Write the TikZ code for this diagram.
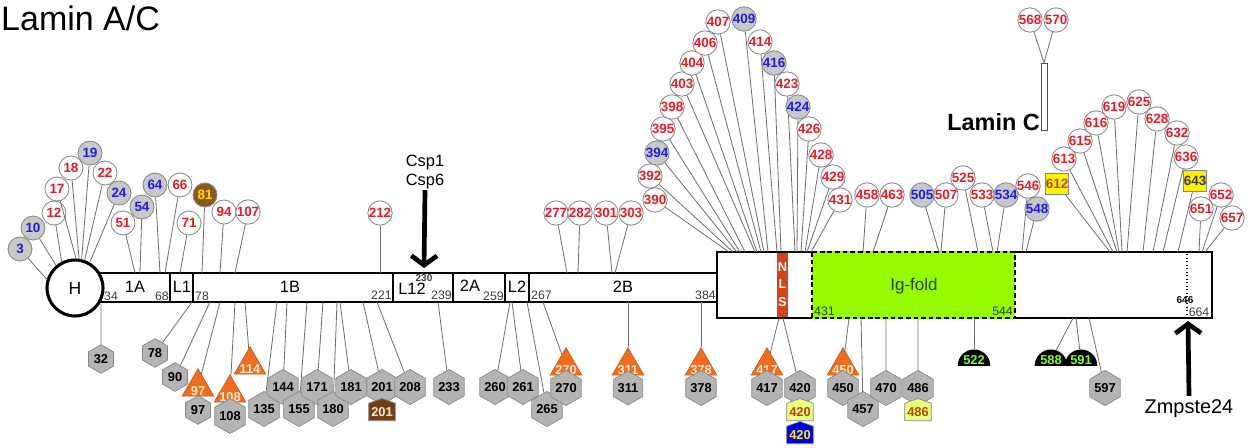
\documentclass[tikz,border=0pt]{standalone}
\usepackage{fontspec}
\setmainfont{Liberation Sans}
\usetikzlibrary{shapes.geometric,shapes.symbols,arrows.meta}

\definecolor{redtxt}{RGB}{228,30,40}
\definecolor{bluetxt}{RGB}{30,30,215}
\definecolor{sitegray}{RGB}{200,200,200}
\definecolor{hexgray}{RGB}{180,180,180}
\definecolor{hexline}{RGB}{135,135,135}
\definecolor{stemgray}{RGB}{110,110,110}
\definecolor{triorange}{RGB}{240,108,30}
\definecolor{tritext}{RGB}{255,232,205}
\definecolor{brownA}{RGB}{140,88,28}
\definecolor{brownB}{RGB}{115,65,20}
\definecolor{goldtxt}{RGB}{255,222,0}
\definecolor{igfold}{RGB}{150,250,0}
\definecolor{igtxt}{RGB}{40,70,30}
\definecolor{nlsred}{RGB}{212,68,22}
\definecolor{paleyellow}{RGB}{232,255,125}
\definecolor{darkorange}{RGB}{185,70,0}
\definecolor{domegreen}{RGB}{135,255,20}
\definecolor{numgray}{RGB}{60,60,60}

% site on a stem: name, style, text, position, stem foot
\newcommand{\mutsite}[5]{%
	\node[#2] (#1) at (#4) {#3};
	\coordinate (#1b) at #5;
	\draw[stem] (#1b) -- (#1);
}

\begin{document}
\begin{tikzpicture}[x=0.03cm, y=-0.03cm,
	stem/.style={draw=stemgray, line width=0.7pt},
	bar/.style={draw=black, fill=white, line width=2.2pt},
	divider/.style={draw=black, line width=1pt},
	segtxt/.style={font=\fontsize{14}{14}\selectfont},
	postxt/.style={font=\fontsize{10.5}{10.5}\selectfont, text=numgray, inner sep=0pt},
	red site/.style={circle, draw=hexline, line width=0.7pt, fill=white, minimum size=0.72cm, inner sep=0pt, text=redtxt, font=\fontsize{11.5}{11.5}\selectfont\bfseries},
	blue site/.style={red site, fill=sitegray, text=bluetxt},
	brown site/.style={red site, fill=brownA, text=goldtxt},
	yelbox/.style={rectangle, draw=hexline, line width=0.6pt, fill=yellow, minimum width=0.69cm, minimum height=0.63cm, inner sep=0pt, font=\fontsize{11.5}{11.5}\selectfont\bfseries},
	hex/.style={regular polygon, regular polygon sides=6, shape border rotate=30, draw=hexline, line width=0.6pt, fill=hexgray, minimum size=0.86cm, inner sep=0pt, font=\fontsize{11}{11}\selectfont\bfseries},
	tri/.style={regular polygon, regular polygon sides=3, draw=triorange!80!black, line width=0.5pt, fill=triorange, minimum size=1.1cm, inner sep=0pt,
		label={[text=tritext, font=\fontsize{11}{11}\selectfont\bfseries, yshift=-0.12cm]center:#1}},
	house/.style={signal, signal to=north, signal pointer angle=140, draw=hexline, line width=0.6pt, minimum width=0.8cm, minimum height=0.64cm, inner sep=0pt, font=\fontsize{11}{11}\selectfont\bfseries},
	dome/.style={semicircle, fill=black, text=domegreen, inner sep=0.9pt, anchor=chord center, font=\fontsize{11}{11}\selectfont\bfseries},
	cut arrow/.style={line width=4pt, -{Straight Barb[length=8pt,width=22pt]}}
]
\useasboundingbox (0,0) rectangle (1259,447);

% Title
\node[anchor=west, font=\fontsize{29}{29}\selectfont, inner sep=0pt] (title) at (1,18) {Lamin A/C};

% Rod domains
\draw[bar] (100,273) rectangle (717,302);
\draw[divider] (170,273) -- (170,302);
\draw[divider] (193,273) -- (193,302);
\draw[divider] (393,273) -- (393,302);
\draw[divider] (453,273) -- (453,302);
\draw[divider] (505,273) -- (505,302);
\draw[divider] (529,273) -- (529,302);

\node[segtxt] (n1A) at (135,287) {1A};
\node[segtxt] (nL1) at (182,287) {L1};
\node[segtxt] (n1B) at (290,287) {1B};
\node[segtxt] (nL12) at (412,289) {L12};
\node[segtxt] (n2A) at (470,286) {2A};
\node[segtxt] (nL2) at (517,287) {L2};
\node[segtxt] (n2B) at (623,287) {2B};

% Head
\node[circle, draw, line width=2.6pt, fill=white, minimum size=1.68cm, inner sep=0pt, font=\fontsize{15}{15}\selectfont] (H) at (75,288) {H};

\node[postxt, anchor=west] (p34) at (104,296) {34};
\node[postxt, anchor=east] (p68) at (169,296) {68};
\node[postxt, anchor=west] (p78) at (195,296) {78};
\node[postxt, anchor=east] (p221) at (392,295) {221};
\node[postxt, anchor=east] (p239) at (452,295) {239};
\node[postxt, anchor=east] (p259) at (504,296) {259};
\node[postxt, anchor=west] (p267) at (531,295) {267};
\node[postxt, anchor=east] (p384) at (716,295) {384};
\node[font=\fontsize{8.5}{8.5}\selectfont\bfseries, text=numgray, inner sep=0pt] (p230) at (424,278) {230};

% Tail domain
\draw[bar] (717,252) rectangle (1212,318);
\fill[igfold] (812,250.7) rectangle (1015,319.3);
\draw[dashed, line width=1.8pt, dash pattern=on 4pt off 2.5pt] (812,252) rectangle (1015,318);
\fill[nlsred] (777,253.3) rectangle (788,316.7);
\node[text=white, font=\fontsize{11}{11}\selectfont\bfseries, inner sep=0pt] (nlsN) at (782.5,267) {N};
\node[text=white, font=\fontsize{11}{11}\selectfont\bfseries, inner sep=0pt] (nlsL) at (782.5,284) {L};
\node[text=white, font=\fontsize{11}{11}\selectfont\bfseries, inner sep=0pt] (nlsS) at (782.5,302) {S};
\node[text=igtxt, font=\fontsize{14.5}{14.5}\selectfont] (ig) at (914,286) {Ig-fold};
\node[text=igtxt, font=\fontsize{10.5}{10.5}\selectfont, inner sep=0pt, anchor=west] (p431) at (814,311) {431};
\node[text=igtxt, font=\fontsize{10.5}{10.5}\selectfont, inner sep=0pt, anchor=east] (p544) at (1013,311) {544};
\draw[dotted, line width=1pt] (1187,254) -- (1187,316);
\node[font=\fontsize{8.5}{8.5}\selectfont\bfseries, inner sep=0pt] (p646) at (1185,300) {646};
\node[postxt] (p664) at (1199,312) {664};

% Cleavage sites
\node[align=center, font=\fontsize{14}{16}\selectfont, inner sep=1pt] (csp) at (425,172) {Csp1\\Csp6};
\coordinate (csptip) at (424,268);
\draw[cut arrow] (csp.south) -- (csptip);
\node[font=\fontsize{17}{17}\selectfont] (zmp) at (1189,409) {Zmpste24};
\coordinate (zmptip) at (1188,321);
\draw[cut arrow] (zmp.north) -- (zmptip);

% Lamin C tail
\node[draw=black!70, line width=0.6pt, fill=white, minimum width=0.18cm, minimum height=2.01cm, inner sep=0pt] (lamc) at (1044,96.5) {};
\node[anchor=base east, font=\fontsize{20}{20}\selectfont\bfseries, inner sep=0pt] (lamctxt) at (1040,130) {Lamin C};
\mutsite{u568}{red site}{568}{1030,20}{(lamc.north)}
\mutsite{u570}{red site}{570}{1056,20}{(lamc.north)}

% Sites above: head and coil 1
\mutsite{u3}{blue site}{3}{20,249}{(H.163)}
\mutsite{u10}{blue site}{10}{33,228}{(H.130)}
\mutsite{u12}{red site}{12}{54,213}{(H.117)}
\mutsite{u17}{red site}{17}{57,189}{(H.88)}
\mutsite{u18}{red site}{18}{71,168}{(H.82)}
\mutsite{u19}{blue site}{19}{90,153}{(H.77)}
\mutsite{u22}{red site}{22}{105,173}{(H.71)}
\mutsite{u24}{blue site}{24}{119,193}{(H.60)}
\mutsite{u51}{red site}{51}{123,223}{(135,273)}
\mutsite{u54}{blue site}{54}{142,207}{(140,273)}
\mutsite{u64}{blue site}{64}{155,185}{(160,273)}
\mutsite{u66}{red site}{66}{180,185}{(165,273)}
\mutsite{u71}{red site}{71}{189,223}{(180,273)}
\mutsite{u81}{brown site}{81}{205,195}{(202,273)}
\mutsite{u94}{red site}{94}{224,212}{(220,273)}
\mutsite{u107}{red site}{107}{248,212}{(235,273)}
\mutsite{u212}{red site}{212}{380,213}{(380,273)}
\mutsite{u277}{red site}{277}{556,213}{(567,273)}
\mutsite{u282}{red site}{282}{580,213}{(578,273)}
\mutsite{u301}{red site}{301}{606,213}{(612,273)}
\mutsite{u303}{red site}{303}{631,213}{(615,273)}

% Sites above: tail
\mutsite{u390}{red site}{390}{655,200}{(729,252)}
\mutsite{u392}{red site}{392}{650,176}{(733,252)}
\mutsite{u394}{blue site}{394}{657,153}{(737,252)}
\mutsite{u395}{red site}{395}{663,129}{(740,252)}
\mutsite{u398}{red site}{398}{672,107}{(745,252)}
\mutsite{u403}{red site}{403}{682,84}{(755,252)}
\mutsite{u404}{red site}{404}{692,63}{(757,252)}
\mutsite{u406}{red site}{406}{705,43}{(761,252)}
\mutsite{u407}{red site}{407}{718,22}{(764,252)}
\mutsite{u409}{blue site}{409}{744,19}{(768,252)}
\mutsite{u414}{red site}{414}{760,42}{(777,252)}
\mutsite{u416}{blue site}{416}{774,63}{(781,252)}
\mutsite{u423}{red site}{423}{787,84}{(795,252)}
\mutsite{u424}{blue site}{424}{798,107}{(797,252)}
\mutsite{u426}{red site}{426}{809,129}{(801,252)}
\mutsite{u428}{red site}{428}{821,155}{(805,252)}
\mutsite{u429}{red site}{429}{833,177}{(807,252)}
\mutsite{u431}{red site}{431}{840,200}{(811,252)}
\mutsite{u458}{red site}{458}{867,195}{(863,252)}
\mutsite{u463}{red site}{463}{892,195}{(873,252)}
\mutsite{u505}{blue site}{505}{922,195}{(939,252)}
\mutsite{u507}{red site}{507}{946,195}{(941,252)}
\mutsite{u525}{red site}{525}{963,178}{(978,252)}
\mutsite{u533}{red site}{533}{982,195}{(993,252)}
\mutsite{u534}{blue site}{534}{1006,195}{(997,252)}
\mutsite{u546}{red site}{546}{1028,186}{(1022,252)}
\mutsite{u548}{blue site}{548}{1037,209}{(1026,252)}
\mutsite{u612}{yelbox, text=darkorange}{612}{1057,184}{(1110,252)}
\mutsite{u613}{red site}{613}{1064,159}{(1113,252)}
\mutsite{u615}{red site}{615}{1080,141}{(1117,252)}
\mutsite{u616}{red site}{616}{1096,123}{(1119,252)}
\mutsite{u619}{red site}{619}{1114,107}{(1122,252)}
\mutsite{u625}{red site}{625}{1139,102}{(1127,252)}
\mutsite{u628}{red site}{628}{1157,119}{(1143,252)}
\mutsite{u632}{red site}{632}{1177,133}{(1153,252)}
\mutsite{u636}{red site}{636}{1186,157}{(1163,252)}
\mutsite{u643}{yelbox, text=numgray}{643}{1195,181}{(1178,252)}
\mutsite{u651}{red site}{651}{1201,209}{(1199,252)}
\mutsite{u652}{red site}{652}{1221,195}{(1202,252)}
\mutsite{u657}{red site}{657}{1232,218}{(1205,252)}

% Sites below
\mutsite{d32}{hex}{32}{101,359}{(101,304)}
\mutsite{d78}{hex}{78}{155,353}{(192,302)}
\mutsite{d90}{hex}{90}{175,377}{(210,302)}
\mutsite{t97}{tri=97}{}{198,387}{(220,302)}
\node[hex] (h97) at (198,410) {97};
\mutsite{t108}{tri=108}{}{230,393}{(235,302)}
\node[hex] (h108) at (230,416) {108};
\mutsite{t114}{tri=114}{}{250,365}{(245,302)}
\mutsite{d135}{hex}{135}{264,409}{(277,302)}
\mutsite{d144}{hex}{144}{283,387}{(287,302)}
\mutsite{d155}{hex}{155}{299,409}{(307,302)}
\mutsite{d171}{hex}{171}{317,387}{(323,302)}
\mutsite{d180}{hex}{180}{333,409}{(337,302)}
\mutsite{d181}{hex}{181}{351,387}{(340,302)}
\mutsite{d201}{hex}{201}{382,387}{(363,302)}
\node[house, fill=brownB, text=tritext] (p201) at (382,412) {201};
\mutsite{d208}{hex}{208}{410,387}{(377,302)}
\mutsite{d233}{hex}{233}{449,387}{(438,302)}
\mutsite{d260}{hex}{260}{495,387}{(510,302)}
\mutsite{d261}{hex}{261}{523,387}{(512,302)}
\mutsite{d265}{hex}{265}{547,409}{(527,302)}
\mutsite{t270}{tri=270}{}{566,366}{(543,302)}
\node[hex] (h270) at (566,388) {270};
\mutsite{t311}{tri=311}{}{628,366}{(628,302)}
\node[hex] (h311) at (628,388) {311};
\mutsite{t378}{tri=378}{}{701,366}{(701,302)}
\node[hex] (h378) at (701,388) {378};
\mutsite{t417}{tri=417}{}{767,366}{(779,318)}
\node[hex] (h417) at (767,388) {417};
\mutsite{d420}{hex}{420}{800,388}{(783,318)}
\node[house, fill=paleyellow, text=darkorange] (p420) at (800,412) {420};
\node[house, fill=blue!90!black, text=yellow] (q420) at (800,435) {420};
\mutsite{t450}{tri=450}{}{843,366}{(849,318)}
\node[hex] (h450) at (843,388) {450};
\mutsite{d457}{hex}{457}{863,409}{(861,318)}
\mutsite{d470}{hex}{470}{886,388}{(886,318)}
\mutsite{d486}{hex}{486}{918,388}{(918,318)}
\node[house, fill=paleyellow, text=darkorange] (p486) at (918,412) {486};
\mutsite{m522}{dome}{522}{974,366}{(974,318)}
\mutsite{m588}{dome}{588}{1051,366}{(1073,318)}
\mutsite{m591}{dome}{591}{1081,366}{(1076,318)}
\mutsite{d597}{hex}{597}{1105,388}{(1089,318)}
\end{tikzpicture}
\end{document}
